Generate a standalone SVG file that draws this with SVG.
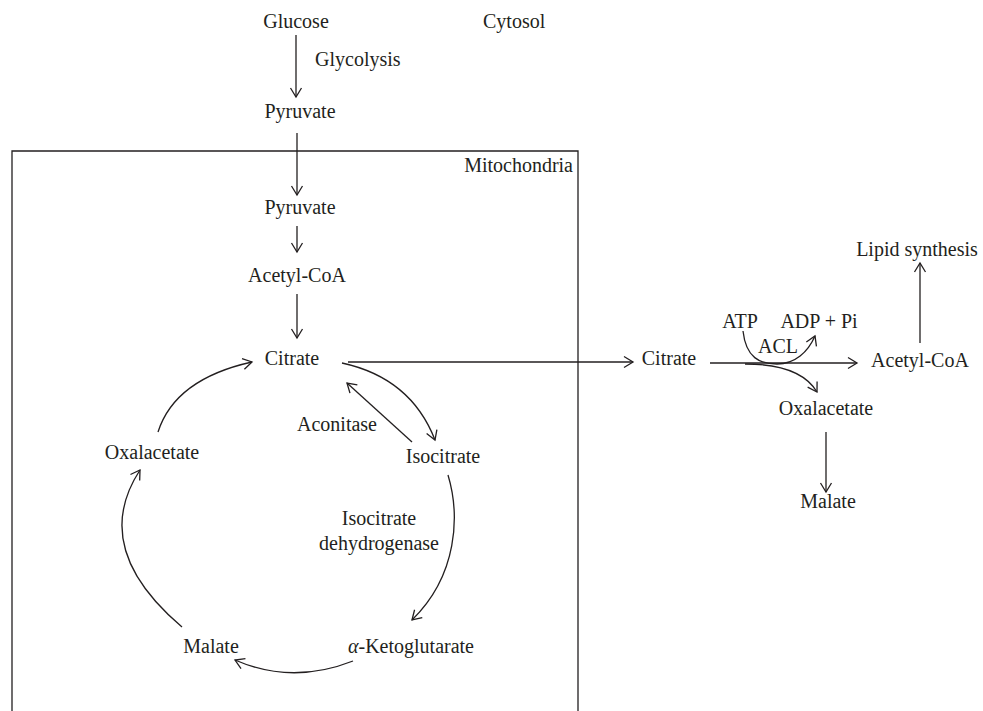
<svg xmlns="http://www.w3.org/2000/svg" width="983" height="711" viewBox="0 0 983 711">
<defs>
<style>
text{font-family:"Liberation Serif","Times New Roman",serif;font-size:20px;fill:#231f20}
.c{stroke:#231f20;stroke-width:1.3;fill:none}
.ln{stroke:#231f20;stroke-width:1.3;fill:none}
</style>
<marker id="ah" markerUnits="userSpaceOnUse" viewBox="-11 -7 13 14" refX="0" refY="0" markerWidth="13" markerHeight="14" orient="auto">
<path d="M-9,-5.5 L0,0 L-9,5.5" fill="none" stroke="#231f20" stroke-width="1.3"/>
</marker>
</defs>
<rect width="983" height="711" fill="#ffffff"/>
<g id="mitochondria-box">
<path class="ln" d="M12,720 V151 H578 V720"/>
<text x="573" y="172" text-anchor="end">Mitochondria</text>
</g>
<g id="cytosol-label"><text x="483" y="28">Cytosol</text></g>
<g id="glucose"><text x="296" y="28" text-anchor="middle">Glucose</text></g>
<g id="glycolysis-label"><text x="315" y="66">Glycolysis</text></g>
<g id="pyruvate-cyt"><text x="300" y="118" text-anchor="middle">Pyruvate</text></g>
<g id="pyruvate-mito"><text x="300" y="214" text-anchor="middle">Pyruvate</text></g>
<g id="acetylcoa-mito"><text x="297" y="282" text-anchor="middle">Acetyl-CoA</text></g>
<g id="citrate-mito"><text x="292" y="365" text-anchor="middle">Citrate</text></g>
<g id="aconitase-label"><text x="297" y="431">Aconitase</text></g>
<g id="isocitrate"><text x="443" y="463" text-anchor="middle">Isocitrate</text></g>
<g id="oxalacetate-mito"><text x="152" y="459" text-anchor="middle">Oxalacetate</text></g>
<g id="idh-label">
<text x="379" y="525" text-anchor="middle">Isocitrate</text>
<text x="379" y="550" text-anchor="middle">dehydrogenase</text>
</g>
<g id="malate-mito"><text x="211" y="653" text-anchor="middle">Malate</text></g>
<g id="akg"><text x="348" y="653"><tspan font-style="italic">α</tspan>-Ketoglutarate</text></g>
<g id="citrate-cyt"><text x="669" y="365" text-anchor="middle">Citrate</text></g>
<g id="atp"><text x="740" y="328" text-anchor="middle">ATP</text></g>
<g id="adp"><text x="819" y="328" text-anchor="middle">ADP + Pi</text></g>
<g id="acl-label"><text x="778" y="353" text-anchor="middle">ACL</text></g>
<g id="acetylcoa-cyt"><text x="920" y="367" text-anchor="middle">Acetyl-CoA</text></g>
<g id="lipid"><text x="917" y="256" text-anchor="middle">Lipid synthesis</text></g>
<g id="oxalacetate-cyt"><text x="826" y="415" text-anchor="middle">Oxalacetate</text></g>
<g id="malate-cyt"><text x="828" y="508" text-anchor="middle">Malate</text></g>
<g id="connectors">
<path class="c" d="M296,35 V97" marker-end="url(#ah)"/>
<path class="c" d="M297,133 V195" marker-end="url(#ah)"/>
<path class="c" d="M297,226 V252" marker-end="url(#ah)"/>
<path class="c" d="M297,294 V338" marker-end="url(#ah)"/>
<path class="c" d="M348,362 H633" marker-end="url(#ah)"/>
<path class="c" d="M342,363 Q411,378 435,440" marker-end="url(#ah)"/>
<path class="c" d="M412,442 L347,383" marker-end="url(#ah)"/>
<path class="c" d="M448,475 C460,515 458,575 412,620" marker-end="url(#ah)"/>
<path class="c" d="M353,661 Q292,685 235,660" marker-end="url(#ah)"/>
<path class="c" d="M182,627 Q89,548 140,470" marker-end="url(#ah)"/>
<path class="c" d="M158,432 Q175,379 252,362" marker-end="url(#ah)"/>
<path class="c" d="M710,363 H857" marker-end="url(#ah)"/>
<path class="c" d="M743,331 C746,358 760,364 777,364 C795,364 808,352 815,336" marker-end="url(#ah)"/>
<path class="c" d="M745,364 C780,364 805,372 817,392" marker-end="url(#ah)"/>
<path class="c" d="M920,343 V263" marker-end="url(#ah)"/>
<path class="c" d="M826,432 V492" marker-end="url(#ah)"/>
</g>
</svg>
